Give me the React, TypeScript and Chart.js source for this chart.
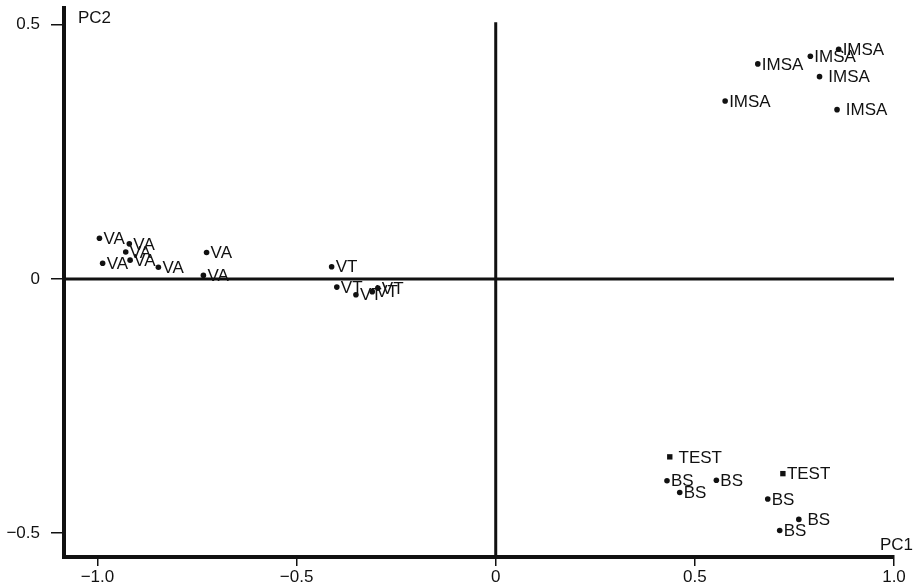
import React, { useEffect, useRef } from "react";
import { Chart, registerables } from "chart.js";

Chart.register(...registerables);

// ---- data ----
const VA_X = [-0.995, -0.92, -0.929, -0.987, -0.918, -0.847, -0.726, -0.734];
const VA_Y = [0.08, 0.069, 0.053, 0.031, 0.037, 0.023, 0.052, 0.007];
const VA_LABELS = ["VA", "VA", "VA", "VA", "VA", "VA", "VA", "VA"];

const VT_X = [-0.412, -0.399, -0.351, -0.31, -0.296];
const VT_Y = [0.024, -0.016, -0.031, -0.025, -0.018];
const VT_LABELS = ["VT", "VT", "VT", "VT", "VT"];

const IMSA_X = [0.658, 0.79, 0.861, 0.813, 0.576, 0.857];
const IMSA_Y = [0.423, 0.438, 0.452, 0.398, 0.35, 0.333];
const IMSA_LABELS = ["IMSA", "IMSA", "IMSA", " IMSA", "IMSA", " IMSA"];

const BS_X = [0.43, 0.554, 0.462, 0.683, 0.761, 0.713];
const BS_Y = [-0.397, -0.396, -0.42, -0.433, -0.473, -0.495];
const BS_LABELS = ["BS", "BS", "BS", "BS", " BS", "BS"];

const TEST_X = [0.437, 0.721];
const TEST_Y = [-0.35, -0.383];
const TEST_LABELS = [" TEST", "TEST"];

const X_TICKS = [-1.0, -0.5, 0, 0.5, 1.0];
const Y_TICKS = [-0.5, 0, 0.5];
const X_TITLE = "PC1";
const Y_TITLE = "PC2";

const FONT = '"Liberation Sans", Arial, Helvetica, sans-serif';
const INK = "#111111";
const FS = 17;

function fmt(v: number): string {
  if (Math.abs(v) < 1e-9) return "0";
  return v.toFixed(1).replace("-", "\u2212");
}

export default function App() {
  const ref = useRef<HTMLCanvasElement>(null);

  useEffect(() => {
    if (!ref.current) return;
    const groups = [
      { x: VA_X, y: VA_Y, labels: VA_LABELS, style: "circle" },
      { x: VT_X, y: VT_Y, labels: VT_LABELS, style: "circle" },
      { x: IMSA_X, y: IMSA_Y, labels: IMSA_LABELS, style: "circle" },
      { x: BS_X, y: BS_Y, labels: BS_LABELS, style: "circle" },
      { x: TEST_X, y: TEST_Y, labels: TEST_LABELS, style: "rect" },
    ];

    const datasets = groups.map((g, gi) => ({
      label: "g" + gi,
      data: g.x.map((x, i) => ({ x, y: g.y[i] })),
      pointStyle: g.style as any,
      pointRadius: g.style === "rect" ? 3.8 : 2.8,
      pointHoverRadius: g.style === "rect" ? 3.8 : 2.8,
      backgroundColor: INK,
      borderColor: INK,
      borderWidth: 0,
      showLine: false,
    }));

    const decor = {
      id: "decor",
      beforeDatasetsDraw(chart: any) {
        const { ctx, chartArea, scales } = chart;
        const x0 = scales.x.getPixelForValue(0);
        const y0 = scales.y.getPixelForValue(0);
        const yTop = scales.y.getPixelForValue(0.505);
        ctx.save();
        ctx.strokeStyle = INK;
        ctx.lineWidth = 3;
        ctx.beginPath();
        ctx.moveTo(x0, yTop);
        ctx.lineTo(x0, chartArea.bottom);
        ctx.moveTo(chartArea.left, y0);
        ctx.lineTo(chartArea.right, y0);
        ctx.stroke();
        ctx.restore();
      },
      afterDatasetsDraw(chart: any) {
        const { ctx, chartArea } = chart;
        ctx.save();
        ctx.fillStyle = INK;
        ctx.font = `${FS}px ${FONT}`;
        ctx.textBaseline = "middle";
        ctx.textAlign = "left";
        groups.forEach((g, gi) => {
          const meta = chart.getDatasetMeta(gi);
          meta.data.forEach((el: any, i: number) => {
            ctx.fillText(g.labels[i], el.x + 4, el.y + 1);
          });
        });
        ctx.fillText(Y_TITLE, chartArea.left + 14, chartArea.top + 10);
        ctx.textAlign = "right";
        ctx.fillText(X_TITLE, chartArea.right + 19, chartArea.bottom - 12);
        ctx.restore();
      },
    };

    const chart = new Chart(ref.current, {
      type: "scatter",
      data: { datasets },
      options: {
        responsive: false,
        animation: false,
        layout: { padding: { left: 0, top: 8, right: 21, bottom: 0 } },
        plugins: { legend: { display: false }, tooltip: { enabled: false } },
        scales: {
          x: {
            type: "linear",
            min: -1.084,
            max: 1.0,
            afterBuildTicks: (s: any) => {
              s.ticks = X_TICKS.map((v) => ({ value: v }));
            },
            afterFit: (s: any) => {
              s.height = 31;
              s.paddingLeft = 0;
              s.paddingRight = 0;
            },
            grid: {
              display: true,
              drawOnChartArea: false,
              drawTicks: true,
              tickLength: 9,
              color: INK,
              lineWidth: 1.5,
            },
            border: { display: true, width: 4, color: INK },
            ticks: {
              font: { family: FONT, size: FS },
              color: INK,
              padding: 1,
              maxRotation: 0,
              autoSkip: false,
              callback: (v: any) => fmt(Number(v)),
            },
          },
          y: {
            type: "linear",
            min: -0.547,
            max: 0.533,
            afterBuildTicks: (s: any) => {
              s.ticks = Y_TICKS.map((v) => ({ value: v }));
            },
            afterFit: (s: any) => {
              s.width = 64;
              s.paddingTop = 0;
              s.paddingBottom = 0;
            },
            grid: {
              display: true,
              drawOnChartArea: false,
              drawTicks: true,
              tickLength: 13,
              color: INK,
              lineWidth: 1.5,
            },
            border: { display: true, width: 4, color: INK },
            ticks: {
              font: { family: FONT, size: FS },
              color: INK,
              padding: 11,
              autoSkip: false,
              callback: (v: any) => fmt(Number(v)),
            },
          },
        },
      },
      plugins: [decor],
    });
    return () => chart.destroy();
  }, []);

  return (
    <div style={{ position: "absolute", left: 0, top: 0, width: 915, height: 588, background: "#fff" }}>
      <canvas ref={ref} width={915} height={588} style={{ display: "block" }} />
    </div>
  );
}
